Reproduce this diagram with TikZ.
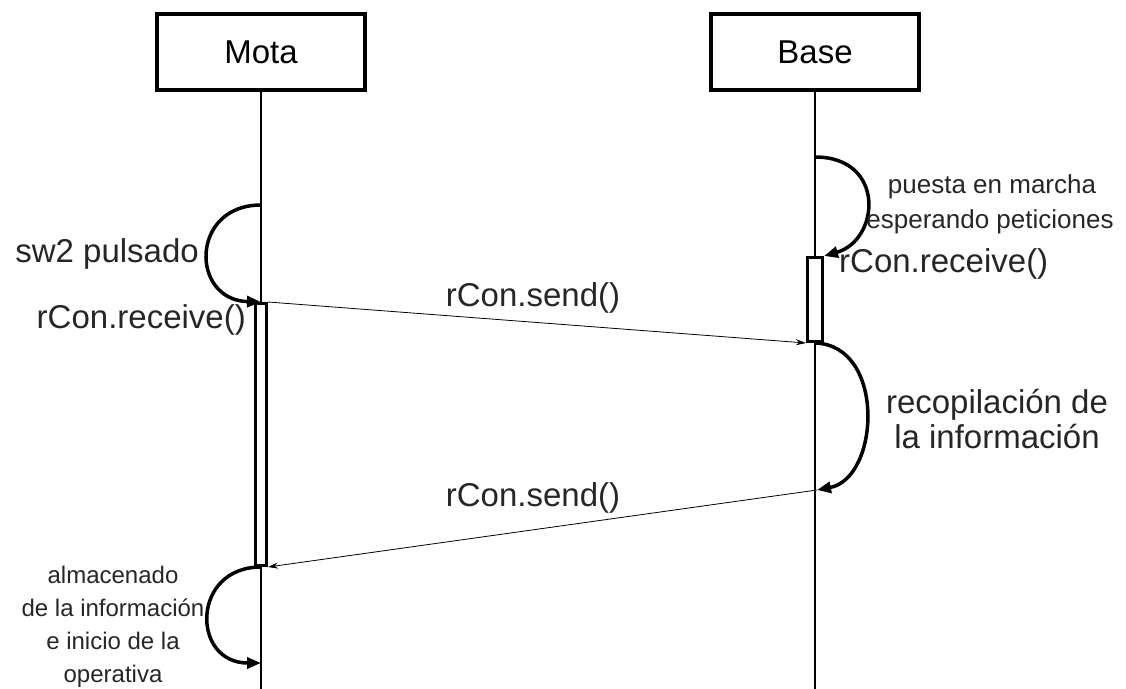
\documentclass[tikz,border=0pt]{standalone}
\usepackage{fontspec}
\setmainfont{Liberation Sans}
\usetikzlibrary{arrows.meta}
\begin{document}
\begin{tikzpicture}[x=1pt,y=-1pt,
  head/.style={draw, line width=3.5pt, minimum width=208pt, minimum height=76pt,
               inner sep=0pt, font=\fontsize{33}{35}\selectfont},
  life/.style={line width=2pt},
  act/.style={draw, fill=white, line width=3pt, inner sep=0pt},
  selfloop/.style={line width=3.5pt, -{Triangle[length=14pt,width=11pt]}},
  msg/.style={line width=0.8pt, -{Stealth[length=10pt,width=6pt]}},
  lbl/.style={inner sep=0pt, text=black!85},
  big/.style={lbl, font=\fontsize{33}{35}\selectfont},
  mid/.style={lbl, font=\fontsize{26}{30}\selectfont},
  small/.style={lbl, font=\fontsize{24}{28}\selectfont},
]
\useasboundingbox (0,0) rectangle (1126,688);

% lifeline heads
\node[head] (mota) at (261,52) {Mota};
\node[head] (base) at (815,52) {Base};

% lifelines
\coordinate (motaEnd) at (261,692);
\coordinate (baseEnd) at (815,692);
\draw[life] (mota.south) -- (motaEnd);
\draw[life] (base.south) -- (baseEnd);

% activation bars
\node[act, minimum width=11pt, minimum height=262pt] (actM) at (261,434.5) {};
\node[act, minimum width=15pt, minimum height=84pt] (actB) at (815,299.5) {};

% points on the lifelines where self calls start or end
\coordinate (m1) at (261,205);
\coordinate (m2) at (261,663);
\coordinate (b1) at (815,157);
\coordinate (b2) at (817,490);

% self calls
\draw[selfloop] (m1) .. controls (190,205) and (190,300) .. (actM.north);
\draw[selfloop] (b1) .. controls (886,157) and (880,240) .. (actB.north east);
\draw[selfloop] (actB.south) .. controls (886,345) and (880,478) .. (b2);
\draw[selfloop] (actM.south) .. controls (191,567) and (191,663) .. (m2);

% messages
\draw[msg] (actM.north east) -- (actB.south west);
\draw[msg] (b2) -- (actM.south east);

% labels
\node[big, anchor=base east] (lsw) at (199,262) {sw2 pulsado};
\node[big, anchor=base east] (lrecM) at (246,328) {rCon.receive()};
\node[big, anchor=base west] (lrecB) at (839,272) {rCon.receive()};
\node[mid, anchor=base] (lpm1) at (992,193) {puesta en marcha};
\node[mid, anchor=base] (lpm2) at (990,228) {esperando peticiones};
\node[big, anchor=base] (lrc1) at (997,413) {recopilación de};
\node[big, anchor=base] (lrc2) at (997,448) {la información};
\node[small, anchor=base] (lal1) at (113,583) {almacenado};
\node[small, anchor=base] (lal2) at (113,616) {de la información};
\node[small, anchor=base] (lal3) at (113,649) {e inicio de la};
\node[small, anchor=base] (lal4) at (113,682) {operativa};
\node[big, anchor=base] (ls1) at (533,306) {rCon.send()};
\node[big, anchor=base] (ls2) at (533,506) {rCon.send()};
\end{tikzpicture}
\end{document}
